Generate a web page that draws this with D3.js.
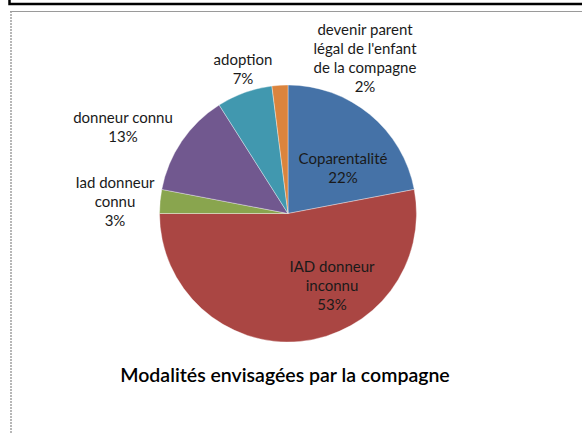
<!DOCTYPE html>
<html><head><meta charset="utf-8">
<script src="https://cdn.jsdelivr.net/npm/d3@7"></script>
<style>html,body{margin:0;padding:0;background:#fff;}svg{display:block;}</style>
</head><body>
<svg id="chart" width="582" height="433"></svg>
<script>
const categories = ["Coparentalité", "IAD donneur inconnu", "Iad donneur connu", "donneur connu", "adoption", "devenir parent légal de l'enfant de la compagne"];
const values = [22, 53, 3, 13, 7, 2];
const labelLines = [["Coparentalité","22%"],["IAD donneur","inconnu","53%"],["Iad donneur","connu","3%"],["donneur connu","13%"],["adoption","7%"],["devenir parent","légal de l'enfant","de la compagne","2%"]];
const colors = ["#4572A7", "#AA4643", "#89A54E", "#71588F", "#4198AF", "#DB843D"];
const title = "Modalités envisagées par la compagne";

const svg = d3.select("#chart");
// frame lines
svg.append("path").attr("d","M9.5,0V4H582").attr("fill","none").attr("stroke","#000").attr("stroke-width",2.5);
svg.append("line").attr("x1",10).attr("x2",582).attr("y1",11.5).attr("y2",11.5).attr("stroke","#9a9a9a").attr("stroke-width",1.2);
svg.append("line").attr("x1",11).attr("x2",11).attr("y1",11).attr("y2",433).attr("stroke","#a0a0a0").attr("stroke-width",1.5).attr("stroke-dasharray","2,1");

const cx = 288, cy = 213.5, r = 128.5;
const pie = d3.pie().sort(null).value(d => d)(values);
const arc = d3.arc().innerRadius(0).outerRadius(r);
const g = svg.append("g").attr("transform",`translate(${cx},${cy})`);
g.selectAll("path").data(pie).join("path")
  .attr("d", arc).attr("fill",(d,i)=>colors[i])
  .attr("stroke","#ffffff").attr("stroke-opacity",0.6).attr("stroke-width",0.6);

// label anchor: centre x and first-line centre y, relative to pie centre
const labelPos = [[55,-54.5],[44,53.5],[-173,-30.5],[-165,-95.5],[-45,-153.5],[77,-183.5]];
const font = "Lato, 'Open Sans', sans-serif";
labelLines.forEach((lines,i)=>{
  const [lx,ly] = labelPos[i];
  const lh = 19;
  const t = svg.append("text").attr("text-anchor","middle")
    .attr("font-family",font).attr("font-size",15).attr("fill","#1a1a1a");
  lines.forEach((s,j)=>{
    t.append("tspan").attr("x",cx+lx).attr("y",cy+ly+j*lh + 5).text(s);
  });
});

svg.append("text").attr("x",285).attr("y",382).attr("text-anchor","middle")
  .attr("font-family",font).attr("font-size",19.5).attr("font-weight",600).attr("fill","#000").text(title);
</script>
</body></html>
